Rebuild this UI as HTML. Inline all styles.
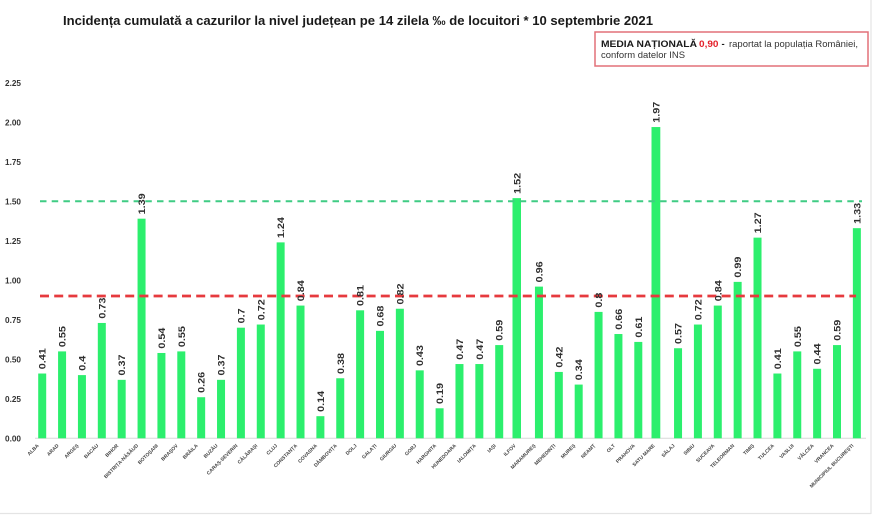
<!DOCTYPE html>
<html>
<head>
<meta charset="utf-8">
<style>
html,body{margin:0;padding:0;background:#fff;}
svg{display:block;font-family:"Liberation Sans",Arial,sans-serif;}
text,tspan{font-family:"Liberation Sans",Arial,sans-serif;}
</style>
</head>
<body>
<svg width="880" height="521" viewBox="0 0 880 521" xmlns="http://www.w3.org/2000/svg" font-family="Liberation Sans, Arial, sans-serif">
<rect x="0" y="0" width="880" height="521" fill="#fff"/>
<!-- frame -->
<line x1="871" y1="0" x2="871" y2="514" stroke="#e4e4e4" stroke-width="1.2"/>
<line x1="0" y1="513.5" x2="871" y2="513.5" stroke="#e4e4e4" stroke-width="1.2"/>

<!-- title -->
<text x="63" y="25" font-size="13" font-weight="bold" fill="#1a1a1a" textLength="590" lengthAdjust="spacingAndGlyphs" font-family="Liberation Sans, Arial, sans-serif">Incidența cumulată a cazurilor la nivel județean pe 14 zilela ‰ de locuitori * 10 septembrie 2021</text>

<!-- legend box -->
<rect x="595" y="32" width="273" height="34" fill="#fff" stroke="#e27078" stroke-width="1.5"/>
<text x="601" y="47" font-size="9.5" font-weight="bold" fill="#1a1a1a" textLength="96" lengthAdjust="spacingAndGlyphs" font-family="Liberation Sans, Arial, sans-serif">MEDIA NAȚIONALĂ</text>
<text x="699" y="47" font-size="9.5" font-weight="bold" fill="#e4202a" textLength="19.5" lengthAdjust="spacingAndGlyphs" font-family="Liberation Sans, Arial, sans-serif">0,90</text>
<text x="721.5" y="47" font-size="9.5" font-weight="bold" fill="#1a1a1a" font-family="Liberation Sans, Arial, sans-serif">-</text>
<text x="729" y="47" font-size="9.5" fill="#333" textLength="129" lengthAdjust="spacingAndGlyphs" font-family="Liberation Sans, Arial, sans-serif">raportat la populația României,</text>
<text x="601" y="58" font-size="9.5" fill="#333" textLength="84" lengthAdjust="spacingAndGlyphs" font-family="Liberation Sans, Arial, sans-serif">conform datelor INS</text>

<!-- y tick labels -->
<g font-size="8" font-weight="bold" fill="#333" font-family="Liberation Sans, Arial, sans-serif">
<text x="5" y="441.3" textLength="16" lengthAdjust="spacingAndGlyphs">0.00</text>
<text x="5" y="401.8" textLength="16" lengthAdjust="spacingAndGlyphs">0.25</text>
<text x="5" y="362.3" textLength="16" lengthAdjust="spacingAndGlyphs">0.50</text>
<text x="5" y="322.8" textLength="16" lengthAdjust="spacingAndGlyphs">0.75</text>
<text x="5" y="283.3" textLength="16" lengthAdjust="spacingAndGlyphs">1.00</text>
<text x="5" y="243.8" textLength="16" lengthAdjust="spacingAndGlyphs">1.25</text>
<text x="5" y="204.3" textLength="16" lengthAdjust="spacingAndGlyphs">1.50</text>
<text x="5" y="164.8" textLength="16" lengthAdjust="spacingAndGlyphs">1.75</text>
<text x="5" y="125.3" textLength="16" lengthAdjust="spacingAndGlyphs">2.00</text>
<text x="5" y="85.8" textLength="16" lengthAdjust="spacingAndGlyphs">2.25</text>
</g>

<!-- baseline -->
<line x1="35" y1="438.3" x2="866" y2="438.3" stroke="#d8d8d8" stroke-width="1"/>

<!-- bars -->
<g transform="translate(0,438.3) scale(1,-1)" fill="#2cef6d">
<rect x="38.2" y="0" width="8" height="64.78"/>
<rect x="58.07" y="0" width="8" height="86.9"/>
<rect x="77.94" y="0" width="8" height="63.2"/>
<rect x="97.81" y="0" width="8" height="115.34"/>
<rect x="117.68" y="0" width="8" height="58.46"/>
<rect x="137.55" y="0" width="8" height="219.62"/>
<rect x="157.42" y="0" width="8" height="85.32"/>
<rect x="177.29" y="0" width="8" height="86.9"/>
<rect x="197.16" y="0" width="8" height="41.08"/>
<rect x="217.03" y="0" width="8" height="58.46"/>
<rect x="236.9" y="0" width="8" height="110.6"/>
<rect x="256.77" y="0" width="8" height="113.76"/>
<rect x="276.64" y="0" width="8" height="195.92"/>
<rect x="296.51" y="0" width="8" height="132.72"/>
<rect x="316.38" y="0" width="8" height="22.12"/>
<rect x="336.25" y="0" width="8" height="60.04"/>
<rect x="356.12" y="0" width="8" height="127.98"/>
<rect x="375.99" y="0" width="8" height="107.44"/>
<rect x="395.86" y="0" width="8" height="129.56"/>
<rect x="415.73" y="0" width="8" height="67.94"/>
<rect x="435.6" y="0" width="8" height="30.02"/>
<rect x="455.47" y="0" width="8" height="74.26"/>
<rect x="475.34" y="0" width="8" height="74.26"/>
<rect x="495.21" y="0" width="8" height="93.22"/>
<rect x="512.5" y="0" width="8.5" height="240.16"/>
<rect x="534.95" y="0" width="8" height="151.68"/>
<rect x="554.82" y="0" width="8" height="66.36"/>
<rect x="574.69" y="0" width="8" height="53.72"/>
<rect x="594.56" y="0" width="8" height="126.4"/>
<rect x="614.43" y="0" width="8" height="104.28"/>
<rect x="634.3" y="0" width="8" height="96.38"/>
<rect x="651.5" y="0" width="8.8" height="311.26"/>
<rect x="674.04" y="0" width="8" height="90.06"/>
<rect x="693.91" y="0" width="8" height="113.76"/>
<rect x="713.78" y="0" width="8" height="132.72"/>
<rect x="733.65" y="0" width="8" height="156.42"/>
<rect x="753.52" y="0" width="8" height="200.66"/>
<rect x="773.39" y="0" width="8" height="64.78"/>
<rect x="793.26" y="0" width="8" height="86.9"/>
<rect x="813.13" y="0" width="8" height="69.52"/>
<rect x="833.0" y="0" width="8" height="93.22"/>
<rect x="852.87" y="0" width="8" height="210.14"/>
</g>

<!-- reference lines -->
<line x1="40" y1="201.2" x2="862" y2="201.2" stroke="#3fcc84" stroke-width="2" stroke-dasharray="6.5,5.2"/>
<line x1="40" y1="296" x2="856" y2="296" stroke="#e63a3e" stroke-width="2.8" stroke-dasharray="9,5.2"/>

<!-- value labels -->
<g font-size="9.5" font-weight="bold" fill="#2e2e2e" font-family="Liberation Sans, Arial, sans-serif">
<text transform="translate(45.7,369.2) rotate(-90)" textLength="21" lengthAdjust="spacingAndGlyphs">0.41</text>
<text transform="translate(65.57,347.1) rotate(-90)" textLength="21" lengthAdjust="spacingAndGlyphs">0.55</text>
<text transform="translate(85.44,370.8) rotate(-90)" textLength="15" lengthAdjust="spacingAndGlyphs">0.4</text>
<text transform="translate(105.31,318.66) rotate(-90)" textLength="21" lengthAdjust="spacingAndGlyphs">0.73</text>
<text transform="translate(125.18,375.54) rotate(-90)" textLength="21" lengthAdjust="spacingAndGlyphs">0.37</text>
<text transform="translate(145.05,214.38) rotate(-90)" textLength="21" lengthAdjust="spacingAndGlyphs">1.39</text>
<text transform="translate(164.92,348.68) rotate(-90)" textLength="21" lengthAdjust="spacingAndGlyphs">0.54</text>
<text transform="translate(184.79,347.1) rotate(-90)" textLength="21" lengthAdjust="spacingAndGlyphs">0.55</text>
<text transform="translate(204.66,392.92) rotate(-90)" textLength="21" lengthAdjust="spacingAndGlyphs">0.26</text>
<text transform="translate(224.53,375.54) rotate(-90)" textLength="21" lengthAdjust="spacingAndGlyphs">0.37</text>
<text transform="translate(244.4,323.4) rotate(-90)" textLength="15" lengthAdjust="spacingAndGlyphs">0.7</text>
<text transform="translate(264.27,320.24) rotate(-90)" textLength="21" lengthAdjust="spacingAndGlyphs">0.72</text>
<text transform="translate(284.14,238.08) rotate(-90)" textLength="21" lengthAdjust="spacingAndGlyphs">1.24</text>
<text transform="translate(304.01,301.28) rotate(-90)" textLength="21" lengthAdjust="spacingAndGlyphs">0.84</text>
<text transform="translate(323.88,411.88) rotate(-90)" textLength="21" lengthAdjust="spacingAndGlyphs">0.14</text>
<text transform="translate(343.75,373.96) rotate(-90)" textLength="21" lengthAdjust="spacingAndGlyphs">0.38</text>
<text transform="translate(363.62,306.02) rotate(-90)" textLength="21" lengthAdjust="spacingAndGlyphs">0.81</text>
<text transform="translate(383.49,326.56) rotate(-90)" textLength="21" lengthAdjust="spacingAndGlyphs">0.68</text>
<text transform="translate(403.36,304.44) rotate(-90)" textLength="21" lengthAdjust="spacingAndGlyphs">0.82</text>
<text transform="translate(423.23,366.06) rotate(-90)" textLength="21" lengthAdjust="spacingAndGlyphs">0.43</text>
<text transform="translate(443.1,403.98) rotate(-90)" textLength="21" lengthAdjust="spacingAndGlyphs">0.19</text>
<text transform="translate(462.97,359.74) rotate(-90)" textLength="21" lengthAdjust="spacingAndGlyphs">0.47</text>
<text transform="translate(482.84,359.74) rotate(-90)" textLength="21" lengthAdjust="spacingAndGlyphs">0.47</text>
<text transform="translate(502.71,340.78) rotate(-90)" textLength="21" lengthAdjust="spacingAndGlyphs">0.59</text>
<text transform="translate(520.25,193.84) rotate(-90)" textLength="21" lengthAdjust="spacingAndGlyphs">1.52</text>
<text transform="translate(542.45,282.32) rotate(-90)" textLength="21" lengthAdjust="spacingAndGlyphs">0.96</text>
<text transform="translate(562.32,367.64) rotate(-90)" textLength="21" lengthAdjust="spacingAndGlyphs">0.42</text>
<text transform="translate(582.19,380.28) rotate(-90)" textLength="21" lengthAdjust="spacingAndGlyphs">0.34</text>
<text transform="translate(602.06,307.6) rotate(-90)" textLength="15" lengthAdjust="spacingAndGlyphs">0.8</text>
<text transform="translate(621.93,329.72) rotate(-90)" textLength="21" lengthAdjust="spacingAndGlyphs">0.66</text>
<text transform="translate(641.8,337.62) rotate(-90)" textLength="21" lengthAdjust="spacingAndGlyphs">0.61</text>
<text transform="translate(659.4,122.74) rotate(-90)" textLength="21" lengthAdjust="spacingAndGlyphs">1.97</text>
<text transform="translate(681.54,343.94) rotate(-90)" textLength="21" lengthAdjust="spacingAndGlyphs">0.57</text>
<text transform="translate(701.41,320.24) rotate(-90)" textLength="21" lengthAdjust="spacingAndGlyphs">0.72</text>
<text transform="translate(721.28,301.28) rotate(-90)" textLength="21" lengthAdjust="spacingAndGlyphs">0.84</text>
<text transform="translate(741.15,277.58) rotate(-90)" textLength="21" lengthAdjust="spacingAndGlyphs">0.99</text>
<text transform="translate(761.02,233.34) rotate(-90)" textLength="21" lengthAdjust="spacingAndGlyphs">1.27</text>
<text transform="translate(780.89,369.22) rotate(-90)" textLength="21" lengthAdjust="spacingAndGlyphs">0.41</text>
<text transform="translate(800.76,347.1) rotate(-90)" textLength="21" lengthAdjust="spacingAndGlyphs">0.55</text>
<text transform="translate(820.63,364.48) rotate(-90)" textLength="21" lengthAdjust="spacingAndGlyphs">0.44</text>
<text transform="translate(840.5,340.78) rotate(-90)" textLength="21" lengthAdjust="spacingAndGlyphs">0.59</text>
<text transform="translate(860.37,223.86) rotate(-90)" textLength="21" lengthAdjust="spacingAndGlyphs">1.33</text>
</g>

<!-- x labels -->
<g font-size="5" font-weight="bold" fill="#444" text-anchor="end" font-family="Liberation Sans, Arial, sans-serif">
<text transform="translate(39.2,446) rotate(-45)">ALBA</text>
<text transform="translate(59.07,446) rotate(-45)">ARAD</text>
<text transform="translate(78.94,446) rotate(-45)">ARGEȘ</text>
<text transform="translate(98.81,446) rotate(-45)">BACĂU</text>
<text transform="translate(118.68,446) rotate(-45)">BIHOR</text>
<text transform="translate(138.55,446) rotate(-45)">BISTRIȚA-NĂSĂUD</text>
<text transform="translate(158.42,446) rotate(-45)">BOTOȘANI</text>
<text transform="translate(178.29,446) rotate(-45)">BRAȘOV</text>
<text transform="translate(198.16,446) rotate(-45)">BRĂILA</text>
<text transform="translate(218.03,446) rotate(-45)">BUZĂU</text>
<text transform="translate(237.9,446) rotate(-45)">CARAȘ-SEVERIN</text>
<text transform="translate(257.77,446) rotate(-45)">CĂLĂRAȘI</text>
<text transform="translate(277.64,446) rotate(-45)">CLUJ</text>
<text transform="translate(297.51,446) rotate(-45)">CONSTANȚA</text>
<text transform="translate(317.38,446) rotate(-45)">COVASNA</text>
<text transform="translate(337.25,446) rotate(-45)">DÂMBOVIȚA</text>
<text transform="translate(357.12,446) rotate(-45)">DOLJ</text>
<text transform="translate(376.99,446) rotate(-45)">GALAȚI</text>
<text transform="translate(396.86,446) rotate(-45)">GIURGIU</text>
<text transform="translate(416.73,446) rotate(-45)">GORJ</text>
<text transform="translate(436.6,446) rotate(-45)">HARGHITA</text>
<text transform="translate(456.47,446) rotate(-45)">HUNEDOARA</text>
<text transform="translate(476.34,446) rotate(-45)">IALOMIȚA</text>
<text transform="translate(496.21,446) rotate(-45)">IAȘI</text>
<text transform="translate(516.08,446) rotate(-45)">ILFOV</text>
<text transform="translate(535.95,446) rotate(-45)">MARAMUREȘ</text>
<text transform="translate(555.82,446) rotate(-45)">MEHEDINȚI</text>
<text transform="translate(575.69,446) rotate(-45)">MUREȘ</text>
<text transform="translate(595.56,446) rotate(-45)">NEAMȚ</text>
<text transform="translate(615.43,446) rotate(-45)">OLT</text>
<text transform="translate(635.3,446) rotate(-45)">PRAHOVA</text>
<text transform="translate(655.17,446) rotate(-45)">SATU MARE</text>
<text transform="translate(675.04,446) rotate(-45)">SĂLAJ</text>
<text transform="translate(694.91,446) rotate(-45)">SIBIU</text>
<text transform="translate(714.78,446) rotate(-45)">SUCEAVA</text>
<text transform="translate(734.65,446) rotate(-45)">TELEORMAN</text>
<text transform="translate(754.52,446) rotate(-45)">TIMIȘ</text>
<text transform="translate(774.39,446) rotate(-45)">TULCEA</text>
<text transform="translate(794.26,446) rotate(-45)">VASLUI</text>
<text transform="translate(814.13,446) rotate(-45)">VÂLCEA</text>
<text transform="translate(834.0,446) rotate(-45)">VRANCEA</text>
<text transform="translate(853.87,446) rotate(-45)">MUNICIPIUL BUCUREȘTI</text>
</g>
</svg>
</body>
</html>
